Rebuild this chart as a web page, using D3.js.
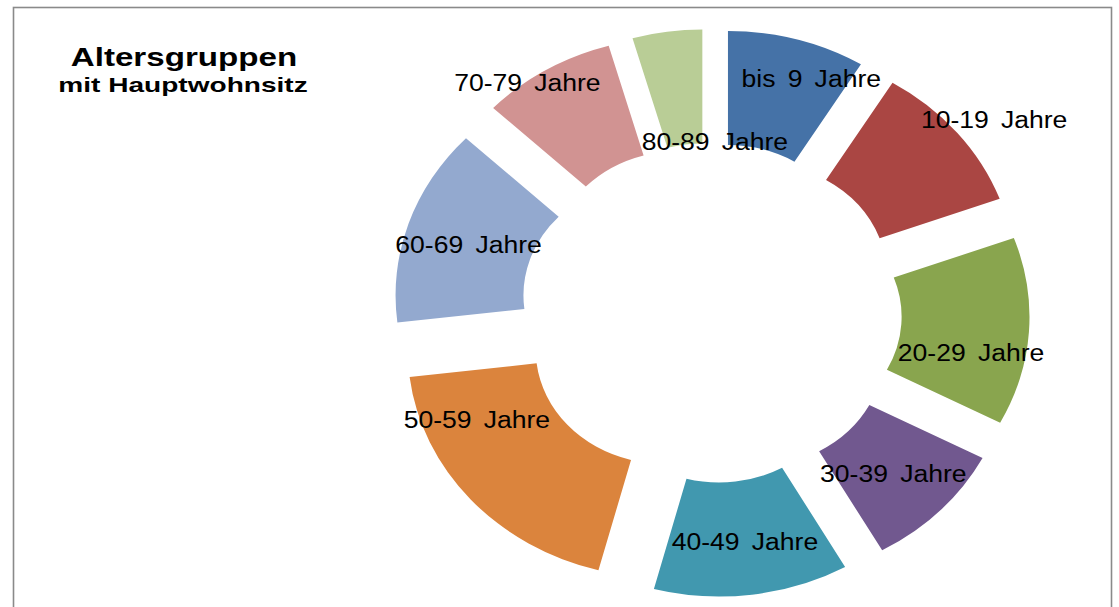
<!DOCTYPE html>
<html>
<head>
<meta charset="utf-8">
<script src="https://cdn.jsdelivr.net/npm/d3@7"></script>
<style>
  html, body { margin: 0; padding: 0; background: #ffffff; }
  svg { display: block; }
</style>
</head>
<body>
<svg id="chart" width="1119" height="607"></svg>
<script>
// ---- data ----
const categories = ["bis 9 Jahre", "10-19 Jahre", "20-29 Jahre", "30-39 Jahre", "40-49 Jahre",
                    "50-59 Jahre", "60-69 Jahre", "70-79 Jahre", "80-89 Jahre"];
const shares = [8.7, 10.7, 13.3, 9.1, 12.3, 19.0, 14.0, 8.5, 4.4];
const titleMain = "Altersgruppen";
const titleSub = "mit Hauptwohnsitz";

// ---- styling / layout ----
const colors = ["#4572A7", "#AA4643", "#89A54E", "#71588F", "#4198AF",
                "#DB843D", "#93A9CF", "#D19392", "#B9CD96"];
const labelNudge = [[31.5, -15.9], [86.4, -49.9], [5.9, 23.7], [-0.6, 2.5], [1.2, 3.1],
                    [-42, -42.4], [-0.7, 2.6], [-51.9, -36.4], [39, 52.8]];

const W = 1119, H = 607;
const cx = 711, cy = 313;
const stretchX = 1.122;      // horizontal stretch of the donut
const outerR = 228, innerR = 114, explode = 56;
const labelSize = 24.7, labelStretch = 1.075;

const svg = d3.select("#chart");

svg.append("rect").attr("x", 0).attr("y", 0).attr("width", W).attr("height", H).attr("fill", "#fff");

// chart frame
svg.append("rect")
  .attr("x", 13.5).attr("y", 7.5)
  .attr("width", 1098).attr("height", 640)
  .attr("fill", "none")
  .attr("stroke", "#8a8a8a")
  .attr("stroke-width", 1.6);

const data = categories.map((c, i) => ({ cat: c, value: shares[i], color: colors[i], nudge: labelNudge[i] }));

const pie = d3.pie().sort(null).value(d => d.value);
const arc = d3.arc().innerRadius(innerR).outerRadius(outerR);
const arcs = pie(data);

const g = svg.append("g").attr("transform", `translate(${cx},${cy}) scale(${stretchX},1)`);

g.selectAll("path.slice")
  .data(arcs)
  .join("path")
  .attr("class", "slice")
  .attr("transform", d => {
    const mid = (d.startAngle + d.endAngle) / 2;
    return `translate(${explode * Math.sin(mid)},${-explode * Math.cos(mid)})`;
  })
  .attr("d", arc)
  .attr("fill", d => d.data.color);

// data labels
svg.selectAll("text.lbl")
  .data(arcs)
  .join("text")
  .attr("class", "lbl")
  .attr("transform", d => {
    const mid = (d.startAngle + d.endAngle) / 2;
    const [x, y] = arc.centroid(d);
    const px = cx + stretchX * (x + explode * Math.sin(mid)) + d.data.nudge[0];
    const py = cy + (y - explode * Math.cos(mid)) + d.data.nudge[1] + 0.358 * labelSize;
    return `translate(${px},${py}) scale(${labelStretch},1)`;
  })
  .attr("text-anchor", "middle")
  .attr("font-family", "'Liberation Sans', Arial, sans-serif")
  .attr("font-size", labelSize)
  .attr("word-spacing", 4.5)
  .attr("fill", "#000")
  .text(d => d.data.cat);

// title
svg.append("text")
  .attr("transform", "translate(184,66) scale(1.30,1)")
  .attr("text-anchor", "middle")
  .attr("font-family", "'Liberation Sans', Arial, sans-serif")
  .attr("font-weight", "bold")
  .attr("font-size", 25.5)
  .attr("fill", "#000")
  .text(titleMain);

svg.append("text")
  .attr("transform", "translate(183,92) scale(1.44,1)")
  .attr("text-anchor", "middle")
  .attr("font-family", "'Liberation Sans', Arial, sans-serif")
  .attr("font-weight", "bold")
  .attr("font-size", 19.5)
  .attr("fill", "#000")
  .text(titleSub);
</script>
</body>
</html>
